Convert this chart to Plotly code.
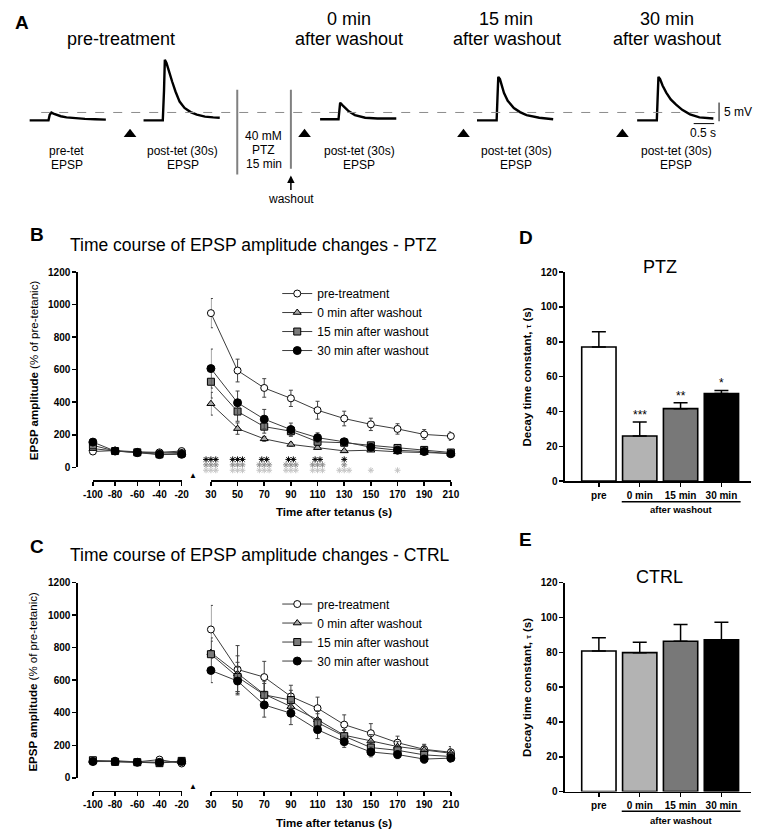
import plotly.graph_objects as go

W, H = 770, 839
FONT = "Liberation Sans, Arial, Helvetica, sans-serif"


def fx(p):
    return p / W


def fy(p):
    return 1 - p / H


# ---------------- Panel A: example EPSP traces (time in s, voltage in mV) ----------------
A_PX_PER_S = 42.0
A_PX_PER_MV = 3.8
A_BASE_PX = 116.0

A_PRETET_T = [0.00, 0.20, 0.46, 0.49, 0.53, 0.58, 0.66, 0.76, 0.90, 1.10, 1.35, 1.60, 1.86]
A_PRETET_V = [0.0, 0.0, 0.0, 1.5, 2.1, 1.8, 1.4, 1.1, 0.8, 0.6, 0.4, 0.3, 0.2]

A_POSTPRE_T = [0.00, 0.25, 0.47, 0.50, 0.52, 0.56, 0.62, 0.70, 0.78, 0.88, 1.00, 1.15, 1.30, 1.50, 1.70, 1.86]
A_POSTPRE_V = [0.0, 0.0, 0.0, 8.0, 16.2, 15.3, 13.0, 10.3, 7.7, 5.0, 3.3, 2.2, 1.5, 1.0, 0.8, 0.7]

A_POST0_T = [0.00, 0.25, 0.45, 0.47, 0.49, 0.55, 0.62, 0.70, 0.85, 1.10, 1.40, 1.86]
A_POST0_V = [0.3, 0.3, 0.3, 2.5, 4.7, 4.0, 3.2, 2.4, 1.4, 0.7, 0.5, 0.5]

A_POST15_T = [0.00, 0.25, 0.48, 0.50, 0.52, 0.56, 0.62, 0.66, 0.75, 0.90, 1.05, 1.21, 1.52, 1.86]
A_POST15_V = [0.0, 0.0, 0.0, 6.0, 11.6, 11.0, 9.0, 7.3, 5.2, 3.3, 2.2, 1.4, 0.7, 0.3]

A_POST30_T = [0.00, 0.25, 0.48, 0.50, 0.52, 0.56, 0.62, 0.71, 0.82, 0.95, 1.10, 1.29, 1.52, 1.86]
A_POST30_V = [0.0, 0.0, 0.0, 6.0, 11.6, 11.0, 9.3, 7.4, 5.6, 4.2, 2.8, 1.6, 0.8, 0.5]

A_TRACE_START_S = [0.48, 3.26, 7.57, 11.40, 15.31]
A_TETANUS_S = [2.93, 7.19, 11.07, 14.95]

# ---------------- Panels B / C: time course (% of pre-tetanic) ----------------
X_BASE = [-100, -80, -60, -40, -20]
X_POST = [30, 50, 70, 90, 110, 130, 150, 170, 190, 210]
Y_TICKS_TC = [0, 200, 400, 600, 800, 1000, 1200]

SERIES_NAMES = ["pre-treatment", "0 min after washout", "15 min after washout", "30 min after washout"]

# PTZ
B_BASE_PRE = [97, 103, 95, 92, 100]
B_BASE_W0 = [115, 100, 93, 88, 92]
B_BASE_W15 = [135, 100, 92, 80, 85]
B_BASE_W30 = [155, 100, 90, 78, 80]
B_BASE_SEM = [10, 8, 8, 8, 8]

B_POST_PRE = [948, 595, 488, 424, 351, 300, 264, 236, 202, 192]
B_POST_W0 = [391, 238, 175, 141, 121, 101, 105, 95, 91, 85]
B_POST_W15 = [526, 343, 250, 222, 157, 151, 135, 119, 107, 91]
B_POST_W30 = [607, 397, 296, 232, 182, 157, 123, 105, 97, 83]
B_SEM_PRE = [90, 70, 57, 50, 55, 45, 38, 32, 30, 26]
B_SEM_W0 = [70, 35, 15, 12, 10, 8, 8, 8, 8, 8]
B_SEM_W15 = [100, 60, 40, 30, 20, 15, 12, 12, 10, 10]
B_SEM_W30 = [120, 72, 60, 40, 30, 20, 15, 12, 12, 10]

# number of significance stars per time point (three comparison rows)
B_SIG_ROW1 = [3, 3, 2, 2, 2, 1, 0, 0, 0, 0]
B_SIG_ROW2 = [3, 3, 3, 3, 3, 1, 0, 0, 0, 0]
B_SIG_ROW3 = [3, 3, 3, 3, 3, 3, 1, 1, 0, 0]

# CTRL
C_BASE_PRE = [100, 105, 98, 112, 88]
C_BASE_W0 = [105, 100, 98, 95, 100]
C_BASE_W15 = [108, 98, 96, 90, 104]
C_BASE_W30 = [100, 100, 95, 95, 100]
C_BASE_SEM = [10, 8, 8, 8, 8]

C_POST_PRE = [912, 666, 619, 500, 428, 327, 274, 216, 175, 157]
C_POST_W0 = [770, 640, 514, 438, 357, 262, 226, 192, 171, 151]
C_POST_W15 = [760, 620, 510, 478, 339, 256, 186, 169, 141, 131]
C_POST_W30 = [660, 595, 448, 397, 296, 222, 159, 143, 115, 121]
C_SEM_PRE = [148, 147, 97, 69, 68, 60, 59, 40, 31, 35]
C_SEM_W0 = [90, 110, 80, 60, 55, 35, 40, 30, 30, 30]
C_SEM_W15 = [80, 90, 70, 60, 55, 35, 40, 30, 30, 30]
C_SEM_W30 = [75, 85, 75, 70, 55, 35, 30, 25, 25, 25]

# ---------------- Panels D / E: decay time constants ----------------
BAR_CATS = ["pre", "0 min", "15 min", "30 min"]
D_TAU = [77.0, 25.9, 41.6, 50.3]
D_SEM = [8.8, 8.0, 3.4, 1.8]
D_SIG = ["", "***", "**", "*"]
E_TAU = [80.7, 79.8, 86.3, 87.1]
E_SEM = [7.6, 5.9, 9.6, 10.2]
BAR_Y_TICKS = [0, 20, 40, 60, 80, 100, 120]

# ---------------- styles ----------------
SYMBOLS = ["circle", "triangle-up", "square", "circle"]
FILLS = ["white", "#a9a9a9", "#7a7a7a", "black"]
SIZES = [7, 7, 7, 8]
BAR_FILLS = ["white", "#b3b3b3", "#787878", "black"]
SIG_COLORS = ["black", "#8f8f8f", "#c4c4c4"]
STAR_GAP_PX = 5.0

# pixel geometry of panel B post-tetanic axis
B_POST_PX = (206, 452)
B_POST_PX_PER_UNIT = (B_POST_PX[1] - B_POST_PX[0]) / (X_POST[-1] - X_POST[0])

fig = go.Figure()

# ---- Panel A traces ----
a_traces = [(A_PRETET_T, A_PRETET_V), (A_POSTPRE_T, A_POSTPRE_V), (A_POST0_T, A_POST0_V),
            (A_POST15_T, A_POST15_V), (A_POST30_T, A_POST30_V)]
for (tt, vv), t0 in zip(a_traces, A_TRACE_START_S):
    fig.add_trace(go.Scatter(x=[t + t0 for t in tt], y=vv, mode="lines",
                             line=dict(color="black", width=2.4), xaxis="x", yaxis="y",
                             showlegend=False, hoverinfo="skip"))
fig.add_trace(go.Scatter(x=A_TETANUS_S, y=[(A_BASE_PX - 130) / A_PX_PER_MV] * len(A_TETANUS_S),
                         mode="markers", marker=dict(symbol="triangle-up", size=11, color="black"),
                         xaxis="x", yaxis="y", showlegend=False, hoverinfo="skip"))


# ---- Panels B and C ----
def add_timecourse(xa_base, xa_post, ya, base_vals, base_sem, post_vals, post_sems, legend_name):
    for i in range(4):
        style = dict(mode="lines+markers", line=dict(color="#3c3c3c", width=1),
                     marker=dict(symbol=SYMBOLS[i], size=SIZES[i], color=FILLS[i],
                                 line=dict(color="black", width=1)),
                     cliponaxis=False, hoverinfo="skip")
        fig.add_trace(go.Scatter(x=X_BASE, y=base_vals[i],
                                 error_y=dict(type="data", array=base_sem, color="#444", thickness=1, width=2),
                                 xaxis=xa_base, yaxis=ya, showlegend=False, **style))
        fig.add_trace(go.Scatter(x=X_POST, y=post_vals[i],
                                 error_y=dict(type="data", array=post_sems[i], color="#444", thickness=1, width=2),
                                 xaxis=xa_post, yaxis=ya, name=SERIES_NAMES[i], legend=legend_name,
                                 showlegend=True, **style))


add_timecourse("x2", "x3", "y2", [B_BASE_PRE, B_BASE_W0, B_BASE_W15, B_BASE_W30], B_BASE_SEM,
               [B_POST_PRE, B_POST_W0, B_POST_W15, B_POST_W30],
               [B_SEM_PRE, B_SEM_W0, B_SEM_W15, B_SEM_W30], "legend")
add_timecourse("x4", "x5", "y3", [C_BASE_PRE, C_BASE_W0, C_BASE_W15, C_BASE_W30], C_BASE_SEM,
               [C_POST_PRE, C_POST_W0, C_POST_W15, C_POST_W30],
               [C_SEM_PRE, C_SEM_W0, C_SEM_W15, C_SEM_W30], "legend2")

# ---- significance stars under panel B (star markers; one row per comparison) ----
star_dx = STAR_GAP_PX / B_POST_PX_PER_UNIT
for r, (row, col) in enumerate(zip([B_SIG_ROW1, B_SIG_ROW2, B_SIG_ROW3], SIG_COLORS)):
    xs, ys = [], []
    for xv, n in zip(X_POST, row):
        for k in range(n):
            xs.append(xv + (k - (n - 1) / 2.0) * star_dx)
            ys.append(r)
    fig.add_trace(go.Scatter(x=xs, y=ys, mode="markers", xaxis="x8", yaxis="y6",
                             marker=dict(symbol="asterisk-open", size=5, color=col,
                                         line=dict(color=col, width=1.0)),
                             showlegend=False, hoverinfo="skip"))

# ---- Panels D and E ----
for xa, ya, vals, sems in [("x6", "y4", D_TAU, D_SEM), ("x7", "y5", E_TAU, E_SEM)]:
    fig.add_trace(go.Bar(x=BAR_CATS, y=vals, width=0.84,
                         marker=dict(color=BAR_FILLS, line=dict(color="black", width=1.6)),
                         error_y=dict(type="data", array=sems, arrayminus=[0] * len(sems), symmetric=False,
                                      color="black", thickness=1.5, width=7),
                         xaxis=xa, yaxis=ya, showlegend=False, hoverinfo="skip"))


# ---------------- axes ----------------
def bold(vals):
    return ["<b>%s</b>" % v for v in vals]


def ax(tickvals=None, **kw):
    base = dict(showgrid=False, zeroline=False, showline=True, linecolor="black", linewidth=1.5,
                ticks="outside", ticklen=4, tickwidth=1.5, tickcolor="black",
                tickfont=dict(family=FONT, size=10, color="black"), fixedrange=True)
    if tickvals is not None:
        base.update(tickmode="array", tickvals=tickvals, ticktext=bold(tickvals))
    base.update(kw)
    return base


pad_units = 12 / B_POST_PX_PER_UNIT
layout_axes = dict(
    xaxis=dict(domain=[0, 1], range=[0, W / A_PX_PER_S], visible=False, anchor="y", fixedrange=True),
    yaxis=dict(domain=[fy(200), fy(40)],
               range=[(A_BASE_PX - 200) / A_PX_PER_MV, (A_BASE_PX - 40) / A_PX_PER_MV],
               visible=False, anchor="x", fixedrange=True),
    xaxis2=ax(X_BASE, domain=[fx(85), fx(176)], range=[-100, -20], anchor="free", position=fy(481)),
    xaxis3=ax(X_POST, domain=[fx(B_POST_PX[0]), fx(B_POST_PX[1])], range=[30, 210], anchor="free",
              position=fy(481)),
    yaxis2=ax(Y_TICKS_TC, domain=[fy(468), fy(270)], range=[0, 1200], anchor="free", position=fx(68)),
    xaxis4=ax(X_BASE, domain=[fx(85), fx(176)], range=[-100, -20], anchor="free", position=fy(796)),
    xaxis5=ax(X_POST, domain=[fx(B_POST_PX[0]), fx(B_POST_PX[1])], range=[30, 210], anchor="free",
              position=fy(796)),
    yaxis3=ax(Y_TICKS_TC, domain=[fy(783), fy(585)], range=[0, 1200], anchor="free", position=fx(68)),
    xaxis6=ax(BAR_CATS, domain=[fx(569), fx(760)], range=[-0.83, 3.73], anchor="y4", type="category",
              categoryorder="array", categoryarray=BAR_CATS),
    yaxis4=ax(BAR_Y_TICKS, domain=[fy(482), fy(270)], range=[0, 120], anchor="x6"),
    xaxis7=ax(BAR_CATS, domain=[fx(569), fx(760)], range=[-0.83, 3.73], anchor="y5", type="category",
              categoryorder="array", categoryarray=BAR_CATS),
    yaxis5=ax(BAR_Y_TICKS, domain=[fy(797), fy(585)], range=[0, 120], anchor="x7"),
    # invisible helper axes for the significance star rows (same time scale as panel B)
    xaxis8=dict(domain=[fx(B_POST_PX[0] - 12), fx(B_POST_PX[1] + 12)],
                range=[30 - pad_units, 210 + pad_units], visible=False, anchor="y6", fixedrange=True),
    yaxis6=dict(domain=[fy(476.5), fy(454.5)], range=[3, -1], visible=False, anchor="x8", fixedrange=True),
)

# ---------------- annotations ----------------
anns = []


def txt(text, x, y, size, xanchor="center", color="black", **kw):
    anns.append(dict(text=text, x=fx(x), y=fy(y), xref="paper", yref="paper", showarrow=False,
                     xanchor=xanchor, yanchor="middle", font=dict(family=FONT, size=size, color=color), **kw))


# Panel A texts
txt("<b>A</b>", 12, 17, 19)
txt("pre-treatment", 114, 33, 18)
txt("0 min", 348, 13, 18)
txt("after washout", 348, 33, 18)
txt("15 min", 509, 13, 18)
txt("after washout", 510, 33, 18)
txt("30 min", 674, 13, 18)
txt("after washout", 674, 33, 18)
txt("pre-tet", 58, 147, 12)
txt("EPSP", 58, 161, 12)
for cx in (177, 358, 519, 683):
    txt("post-tet (30s)", cx, 147, 12)
    txt("EPSP", cx, 161, 12)
txt("40 mM", 260, 132, 12)
txt("PTZ", 260, 146, 12)
txt("15 min", 260, 160, 12)
txt("5 mV", 730, 108, 12, xanchor="left")
txt("0.5 s", 711, 129, 12)
anns.append(dict(text="washout", x=fx(288), y=fy(172), xref="paper", yref="paper", showarrow=True,
                 ax=0, ay=23, arrowhead=2, arrowsize=1, arrowwidth=1.5, arrowcolor="black", standoff=0,
                 font=dict(family=FONT, size=12, color="black")))

# Panels B / C texts
for lab, ly, title, ty, y0 in [("B", 232, "Time course of EPSP amplitude changes - PTZ", 242, 0),
                               ("C", 548, "Time course of EPSP amplitude changes - CTRL", 557, 316)]:
    txt("<b>%s</b>" % lab, 28, ly, 19)
    txt(title, 59, ty, 17.5, xanchor="left")
    txt("<b>EPSP amplitude</b> (% of pre-tetanic)", 24, 369 + y0, 11.5, textangle=-90)
    txt("<b>Time after tetanus (s)</b>", 332, 513 + y0, 11.5)
    txt("▲", 188, 476 + y0, 8)

# Panels D / E texts
for lab, ly, title, ty, y0 in [("D", 235, "PTZ", 265, 0), ("E", 541, "CTRL", 579, 315)]:
    txt("<b>%s</b>" % lab, 529, ly, 19)
    txt(title, 666, ty, 18)
    txt("<b>Decay time constant, <span style='font-size:8px'>τ</span> (s)</b>", 530, 376 + y0, 11.5,
        textangle=-90)
    txt("<b>after washout</b>", 688, 511 + y0, 9.5)

for xv, v, s, sig in zip(BAR_CATS, D_TAU, D_SEM, D_SIG):
    if sig:
        anns.append(dict(text=sig, x=xv, y=v + s, xref="x6", yref="y4", showarrow=False,
                         xanchor="center", yanchor="middle", yshift=7,
                         font=dict(family=FONT, size=12, color="black")))

# ---------------- shapes ----------------
shapes = []
pre_peak = max(A_PRETET_V)
shapes.append(dict(type="line", xref="x", yref="y", x0=32 / A_PX_PER_S, x1=723 / A_PX_PER_S,
                   y0=pre_peak, y1=pre_peak, line=dict(color="#8c8c8c", width=1, dash="dash")))
for xpx, ybot in [(233, 171), (288, 165)]:
    shapes.append(dict(type="line", xref="x", yref="y", x0=xpx / A_PX_PER_S, x1=xpx / A_PX_PER_S,
                       y0=(A_BASE_PX - 85) / A_PX_PER_MV, y1=(A_BASE_PX - ybot) / A_PX_PER_MV,
                       line=dict(color="#808080", width=2)))
# scale bars: 5 mV and 0.5 s
sb_x = 727 / A_PX_PER_S
shapes.append(dict(type="line", xref="x", yref="y", x0=sb_x, x1=sb_x, y0=-0.25, y1=4.75,
                   line=dict(color="black", width=1)))
shapes.append(dict(type="line", xref="x", yref="y", x0=16.69, x1=16.69 + 0.5, y0=-0.87, y1=-0.87,
                   line=dict(color="black", width=1)))
# "after washout" brackets
for xa, ypx in [("x6", 503), ("x7", 817)]:
    shapes.append(dict(type="line", xref=xa, yref="paper", x0=0.56, x1=3.47, y0=fy(ypx), y1=fy(ypx),
                       line=dict(color="black", width=1.5)))

legend_style = dict(xanchor="left", yanchor="top", bgcolor="rgba(0,0,0,0)", borderwidth=0,
                    font=dict(family=FONT, size=12, color="black"), tracegroupgap=0, itemwidth=30)

fig.update_layout(
    width=W, height=H, autosize=False, margin=dict(l=0, r=0, t=0, b=0, pad=0),
    paper_bgcolor="white", plot_bgcolor="rgba(0,0,0,0)",
    font=dict(family=FONT, color="black"),
    bargap=0, showlegend=True,
    legend=dict(x=fx(274), y=fy(277), **legend_style),
    legend2=dict(x=fx(274), y=fy(592), **legend_style),
    annotations=anns, shapes=shapes, **layout_axes,
)

fig.write_html("out.html", config={"displayModeBar": False, "staticPlot": True},
               post_script="document.body.style.margin='0';")
